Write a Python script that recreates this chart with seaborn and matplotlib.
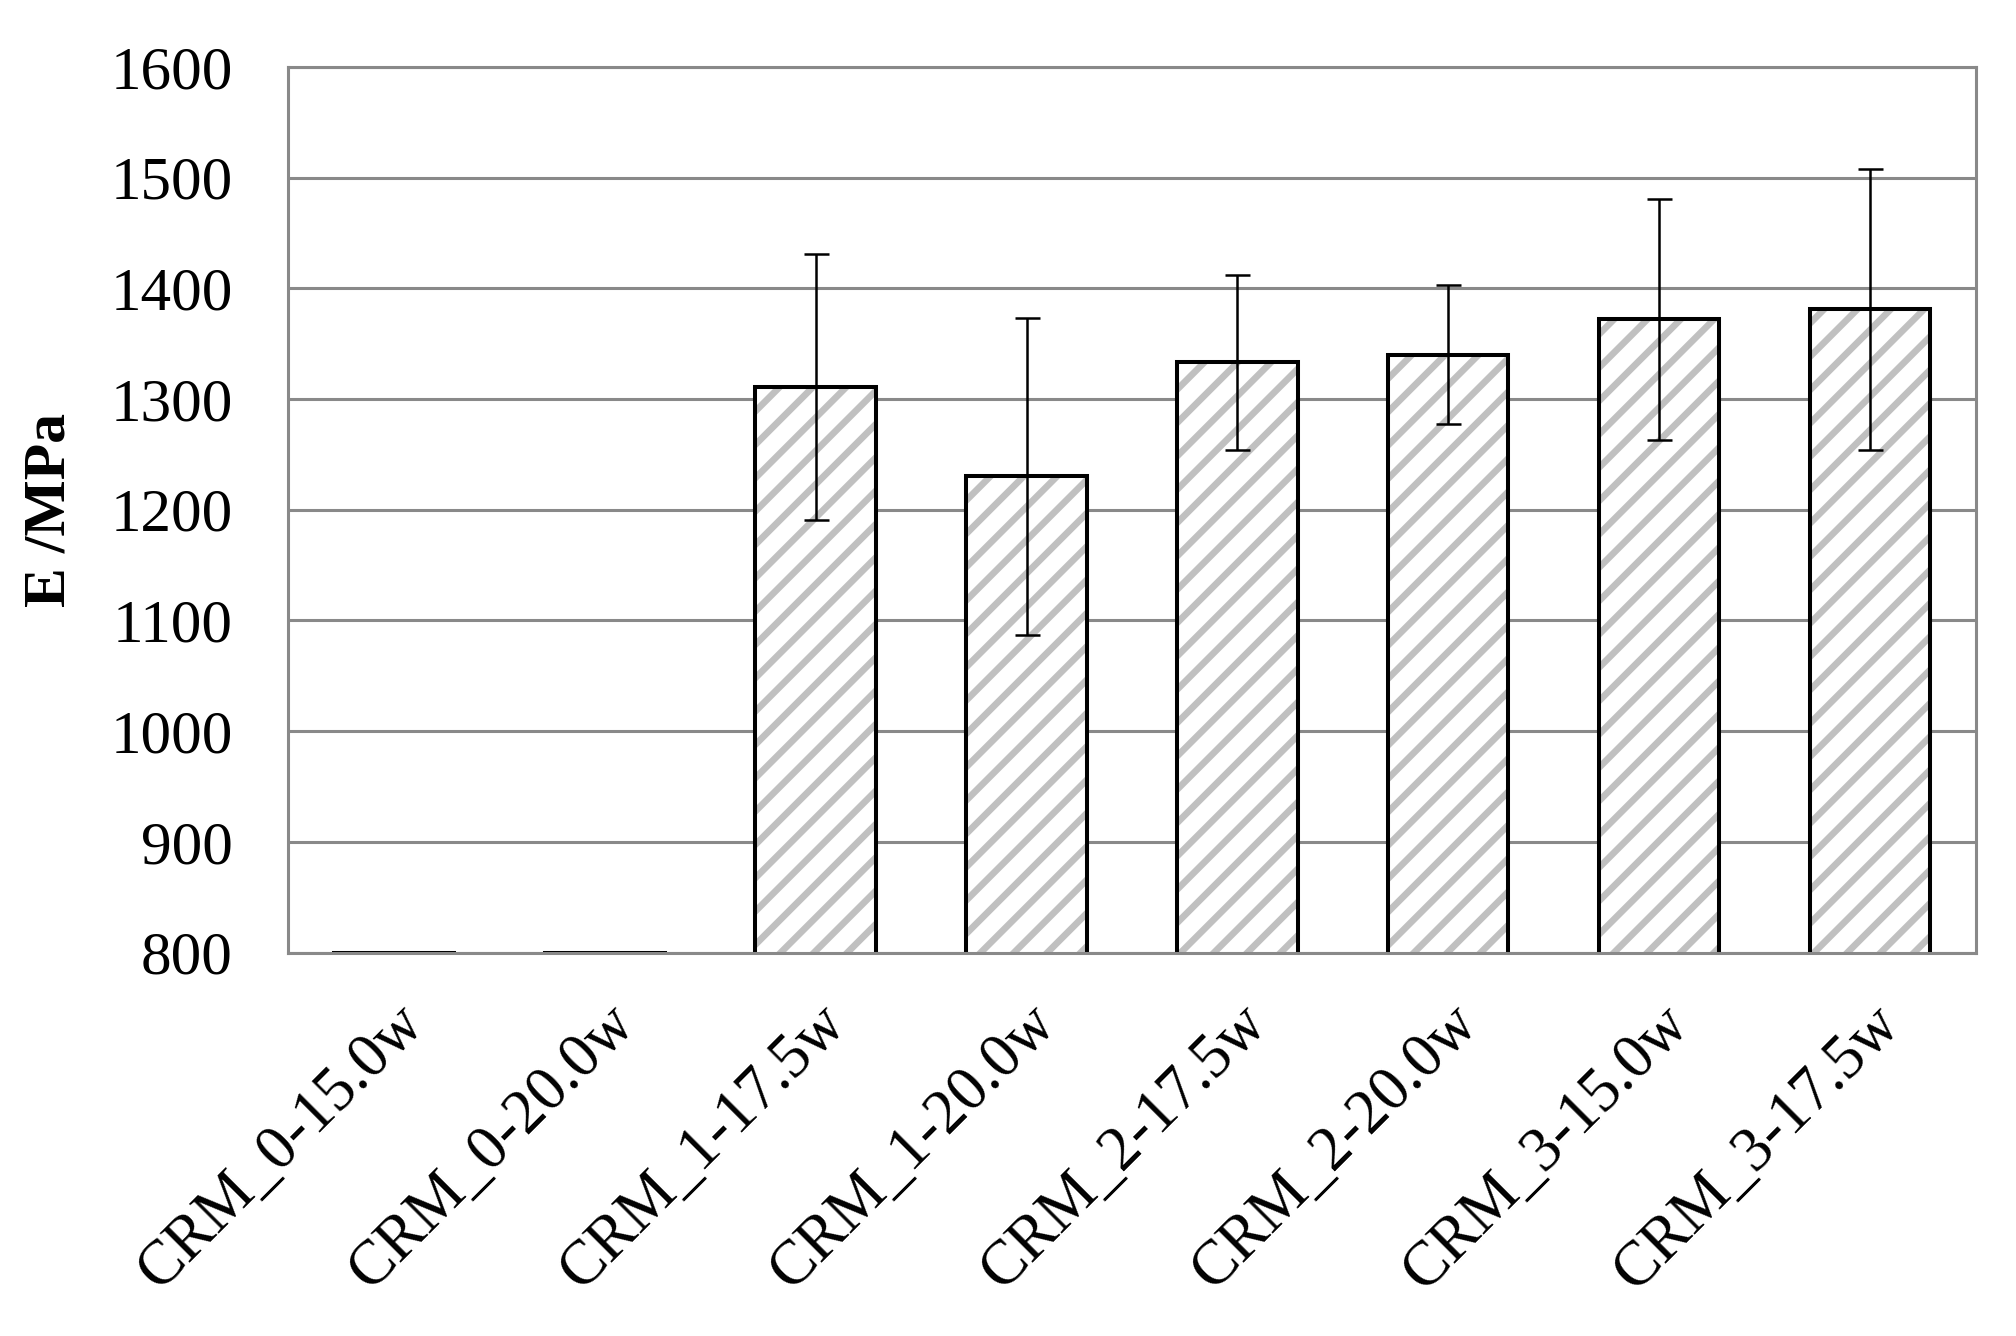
import numpy as np
import pandas as pd
import matplotlib
matplotlib.use("Agg")
import matplotlib.pyplot as plt
import seaborn as sns

# values
samples = ["CRM_0-15.0w", "CRM_0-20.0w", "CRM_1-17.5w", "CRM_1-20.0w",
           "CRM_2-17.5w", "CRM_2-20.0w", "CRM_3-15.0w", "CRM_3-17.5w"]
modulus = [800, 800, 1311, 1230, 1333, 1340, 1372, 1381]
modulus_sd = [0, 0, 120, 143, 79, 63, 109, 127]
yticks = [800, 900, 1000, 1100, 1200, 1300, 1400, 1500, 1600]

df = pd.DataFrame({"sample": samples, "E": modulus, "sd": modulus_sd})

sns.set_theme(style="white")
plt.rcParams["font.family"] = ["Liberation Serif", "DejaVu Serif"]
plt.rcParams["text.color"] = "black"
plt.rcParams["axes.labelcolor"] = "black"
plt.rcParams["xtick.color"] = "black"
plt.rcParams["ytick.color"] = "black"
plt.rcParams["hatch.linewidth"] = 4.8

fig, ax = plt.subplots(figsize=(20.16, 13.36), dpi=100)

# gray hatched fill first (hatch takes the edge colour), black outline on top
sns.barplot(data=df, x="sample", y="E", color="white", edgecolor="#c0c0c0",
            linewidth=0, width=0.57, errorbar=None, ax=ax)
for p in ax.patches:
    p.set_hatch("/")
sns.barplot(data=df, x="sample", y="E", fill=False, edgecolor="black",
            linewidth=2.9, width=0.57, errorbar=None, ax=ax)

# error bars only for the measured samples
has_sd = df["sd"] > 0
xpos = np.arange(len(df))[has_sd]
ax.errorbar(xpos, df.loc[has_sd, "E"], yerr=df.loc[has_sd, "sd"], fmt="none",
            ecolor="black", elinewidth=1.8, capsize=9, capthick=1.8, zorder=5)

ax.set_ylim(800, 1600)
ax.set_yticks(yticks)
ax.set_xlim(-0.5, len(samples) - 0.5)
ax.yaxis.grid(True, color="#898989", linewidth=2.2)
ax.set_axisbelow(True)
for s in ax.spines.values():
    s.set_color("#898989")
    s.set_linewidth(2.2)

ax.set_xlabel("")
ax.set_ylabel("E /MPa", fontsize=43, fontweight="bold", labelpad=24)
ax.tick_params(axis="y", labelsize=44, length=0, pad=40)
ax.tick_params(axis="x", labelsize=45, length=0, pad=30)
plt.setp(ax.get_xticklabels(), rotation=45, ha="right", rotation_mode="anchor")

plt.subplots_adjust(left=0.143, right=0.98, top=0.95, bottom=0.287)
plt.savefig("out.png", dpi=100)
